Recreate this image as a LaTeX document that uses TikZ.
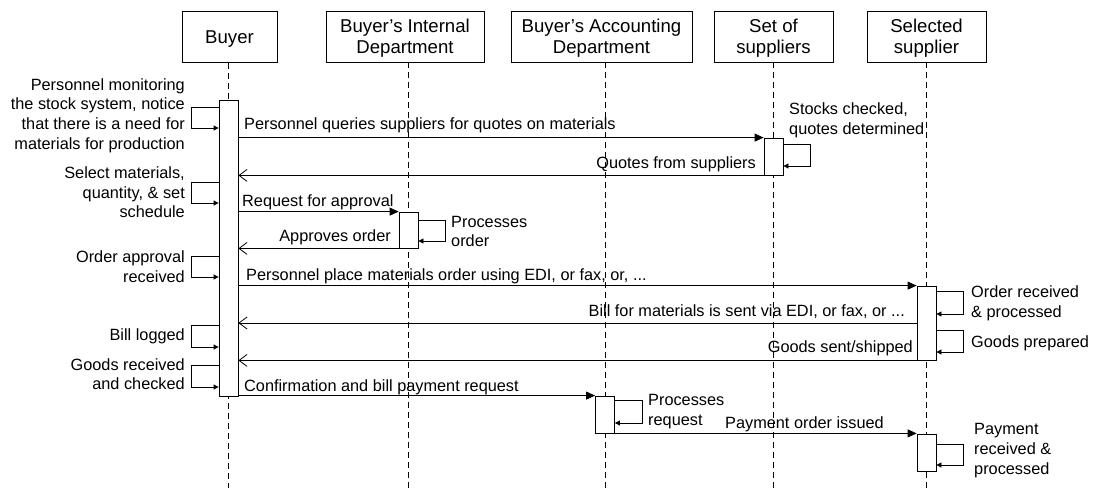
\documentclass[tikz,border=0pt]{standalone}
\usepackage{fontspec}
\setmainfont{Liberation Sans}
\usetikzlibrary{arrows.meta}
\begin{document}
\begin{tikzpicture}[x=1pt,y=-1pt,
  every node/.style={font=\fontsize{16.3}{19.6}\selectfont, inner sep=0pt},
  hdr/.style={draw, line width=0.8pt, align=center, minimum height=51pt, text depth=0pt, font=\fontsize{18.6}{21}\selectfont},
  bar/.style={draw, fill=white, line width=0.8pt, minimum width=19pt},
  life/.style={dash pattern=on 6pt off 4pt, line width=0.8pt},
  msg/.style={-{Triangle[length=9pt,width=8pt]}, line width=0.8pt},
  ret/.style={-{Straight Barb[length=8pt,width=12pt]}, line width=0.8pt},
  selfloop/.style={-{Triangle[length=5pt,width=5pt]}, line width=0.8pt},
  lbl/.style={align=left, anchor=west},
  lblr/.style={align=right, anchor=east}]
\useasboundingbox (0,0) rectangle (1094,488);

% headers
\node[hdr, minimum width=95pt]  (hBuy) at (229.5,37) {Buyer};
\node[hdr, minimum width=158pt] (hInt) at (405,36.5) {Buyer’s Internal\\Department};
\node[hdr, minimum width=181pt] (hAcc) at (601.5,36.5) {Buyer’s Accounting\\Department};
\node[hdr, minimum width=119pt] (hSet) at (773.5,36.5) {Set of\\suppliers};
\node[hdr, minimum width=119pt] (hSel) at (926.5,36.5) {Selected\\supplier};

% bottom ends of lifelines
\coordinate (bBuy) at (228.5,488);
\coordinate (bInt) at (408.5,488);
\coordinate (bAcc) at (605,488);
\coordinate (bSet) at (773.5,488);
\coordinate (bSel) at (926.5,488);

\draw[life] (hBuy.south -| bBuy) -- (bBuy);
\draw[life] (hInt.south -| bInt) -- (bInt);
\draw[life] (hAcc.south -| bAcc) -- (bAcc);
\draw[life] (hSet.south -| bSet) -- (bSet);
\draw[life] (hSel.south -| bSel) -- (bSel);

% activation bars
\node[bar, minimum height=296pt] (buyerbar) at (228.5,248) {};
\node[bar, minimum height=37pt]  (supbar)   at (773.5,156.5) {};
\node[bar, minimum height=36pt]  (intbar)   at (408.5,230) {};
\node[bar, minimum height=74pt]  (selbar1)  at (926.5,323) {};
\node[bar, minimum height=37pt]  (accbar)   at (605,414.5) {};
\node[bar, minimum height=37pt]  (selbar2)  at (926.5,452.5) {};

% messages
\draw[msg] (buyerbar.east |- supbar.north) -- (supbar.north west);
\draw[ret] (supbar.south west) -- (buyerbar.east |- supbar.south);
\draw[msg] (buyerbar.east |- intbar.north) -- (intbar.north west);
\draw[ret] (intbar.south west) -- (buyerbar.east |- intbar.south);
\draw[msg] (buyerbar.east |- selbar1.north) -- (selbar1.north west);
\draw[ret] (selbar1.west |- 0,323) -- (buyerbar.east |- 0,323);
\draw[ret] (selbar1.south west) -- (buyerbar.east |- selbar1.south);
\draw[msg] (buyerbar.east |- accbar.north) -- (accbar.north west);
\draw[msg] (accbar.south east) -- (selbar2.west |- accbar.south);

% self loops on Buyer
\draw[selfloop] (buyerbar.west |- 0,107) -- ++(-27,0) -- ++(0,21) -- (buyerbar.west |- 0,128);
\draw[selfloop] (buyerbar.west |- 0,182) -- ++(-27,0) -- ++(0,21) -- (buyerbar.west |- 0,203);
\draw[selfloop] (buyerbar.west |- 0,256) -- ++(-27,0) -- ++(0,21) -- (buyerbar.west |- 0,277);
\draw[selfloop] (buyerbar.west |- 0,325) -- ++(-27,0) -- ++(0,22) -- (buyerbar.west |- 0,347);
\draw[selfloop] (buyerbar.west |- 0,365) -- ++(-27,0) -- ++(0,22) -- (buyerbar.west |- 0,387);
% other self loops
\draw[selfloop] (supbar.east |- 0,144) -- ++(27,0) -- ++(0,22) -- (supbar.east |- 0,166);
\draw[selfloop] (intbar.east |- 0,220) -- ++(27,0) -- ++(0,21) -- (intbar.east |- 0,241);
\draw[selfloop] (selbar1.east |- 0,291) -- ++(27,0) -- ++(0,23) -- (selbar1.east |- 0,314);
\draw[selfloop] (selbar1.east |- 0,330) -- ++(27,0) -- ++(0,22) -- (selbar1.east |- 0,352);
\draw[selfloop] (accbar.east |- 0,400) -- ++(27,0) -- ++(0,23) -- (accbar.east |- 0,423);
\draw[selfloop] (selbar2.east |- 0,444) -- ++(27,0) -- ++(0,21) -- (selbar2.east |- 0,465);

% Buyer-side labels
\node[lblr] (l1) at (185,115.5) {Personnel monitoring\\the stock system, notice\\that there is a need for\\materials for production};
\node[lblr] (l2) at (185,192.5) {Select materials,\\quantity, \& set\\schedule};
\node[lblr] (l3) at (185,266.5) {Order approval\\received};
\node[lblr] (l4) at (185,336) {Bill logged};
\node[lblr] (l5) at (185,374) {Goods received\\and checked};

% message labels
\node[lbl]  (m1) at (244,125) {Personnel queries suppliers for quotes on materials};
\node[lblr] (m2) at (756,164) {Quotes from suppliers};
\node[lbl]  (m3) at (242,202) {Request for approval};
\node[lblr] (m4) at (391,237) {Approves order};
\node[lbl]  (m5) at (246,276) {Personnel place materials order using EDI, or fax, or, ...};
\node[lblr] (m6) at (905,312) {Bill for materials is sent via EDI, or fax, or ...};
\node[lblr] (m7) at (913,348) {Goods sent/shipped};
\node[lbl]  (m8) at (244,387) {Confirmation and bill payment request};
\node[lbl]  (m9) at (725,424) {Payment order issued};

% right-side labels
\node[lbl] (r1) at (789,120) {Stocks checked,\\quotes determined};
\node[lbl] (r2) at (451,231.5) {Processes\\order};
\node[lbl] (r3) at (971,303) {Order received\\\& processed};
\node[lbl] (r4) at (971,343) {Goods prepared};
\node[lbl] (r5) at (648,411.5) {Processes\\request};
\node[lbl] (r6) at (974,450.5) {Payment\\received \&\\processed};
\end{tikzpicture}
\end{document}
